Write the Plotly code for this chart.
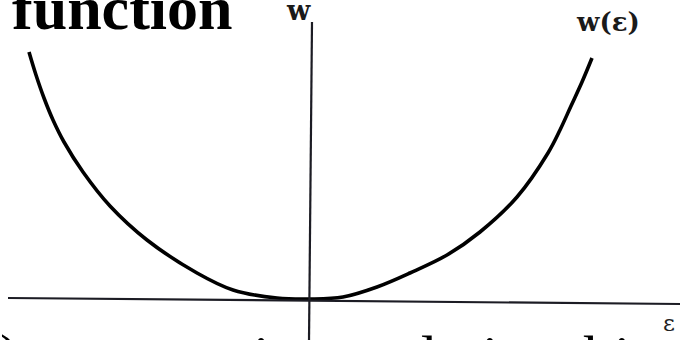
import plotly.graph_objects as go

# Strain-energy curve w(eps) (arbitrary units)
eps = [-2.82, -2.75, -2.67, -2.58, -2.47, -2.28, -2.01, -1.64, -1.14, -0.78, -0.34, 0.0,
       0.32, 0.66, 0.99, 1.36, 1.69, 2.06, 2.37, 2.49, 2.60, 2.71, 2.81]
w = [2.47, 2.24, 2.01, 1.79, 1.57, 1.27, 0.93, 0.59, 0.26, 0.09, 0.01, 0.0,
     0.02, 0.12, 0.26, 0.44, 0.67, 1.02, 1.46, 1.69, 1.93, 2.17, 2.41]

title_text = "function"
bottom_text = "unique relationship"
curve_label = "w(ε)"
y_label = "w"
x_label = "ε"

W, H = 684, 340


def px(x):
    return x / W


def py(y):
    return 1 - y / H


fig = go.Figure()
fig.add_trace(go.Scatter(x=eps, y=w, mode="lines",
                         line=dict(color="#000000", width=3.6, shape="spline", smoothing=1.0),
                         hoverinfo="skip", showlegend=False))

axis_col = "#1c1c24"
# horizontal axis (slightly tilted as in the scan)
fig.add_shape(type="line", xref="paper", yref="paper",
              x0=px(8), y0=py(298), x1=px(680), y1=py(304),
              line=dict(color=axis_col, width=2.2))
# vertical axis
fig.add_shape(type="line", xref="paper", yref="paper",
              x0=px(312), y0=py(22), x1=px(309), y1=py(341),
              line=dict(color=axis_col, width=2.2))

ann = []
ann.append(dict(text="<b>" + title_text + "</b>", x=px(10), y=py(8), xanchor="left", yanchor="middle",
                font=dict(family="Liberation Serif", size=62, color="#000")))
ann.append(dict(text=bottom_text, x=px(190), y=py(357), xanchor="left", yanchor="middle",
                font=dict(family="Liberation Serif", size=61, color="#000")))
ann.append(dict(text=")", x=px(-2), y=py(357), xanchor="left", yanchor="middle",
                font=dict(family="Liberation Serif", size=61, color="#000")))
ann.append(dict(text="<b>" + curve_label + "</b>", x=px(574), y=py(22), xanchor="left", yanchor="middle",
                font=dict(family="DejaVu Serif", size=26, color="#1a1a1a")))
ann.append(dict(text="<b>" + y_label + "</b>", x=px(284), y=py(11), xanchor="left", yanchor="middle",
                font=dict(family="DejaVu Serif", size=27, color="#1a1a1a")))
ann.append(dict(text=x_label, x=px(661), y=py(323), xanchor="left", yanchor="middle",
                font=dict(family="DejaVu Serif", size=23, color="#222")))
for a in ann:
    a.update(xref="paper", yref="paper", showarrow=False)

fig.update_layout(
    width=W, height=H,
    margin=dict(l=0, r=0, t=0, b=0),
    paper_bgcolor="white", plot_bgcolor="white",
    xaxis=dict(range=[-3.11, 3.73], visible=False, fixedrange=True),
    yaxis=dict(range=[-0.41, 2.99], visible=False, fixedrange=True),
    annotations=ann,
)

fig.write_html("out.html", config={"displayModeBar": False},
               post_script="document.body.style.margin='0';document.body.style.overflow='hidden';")
